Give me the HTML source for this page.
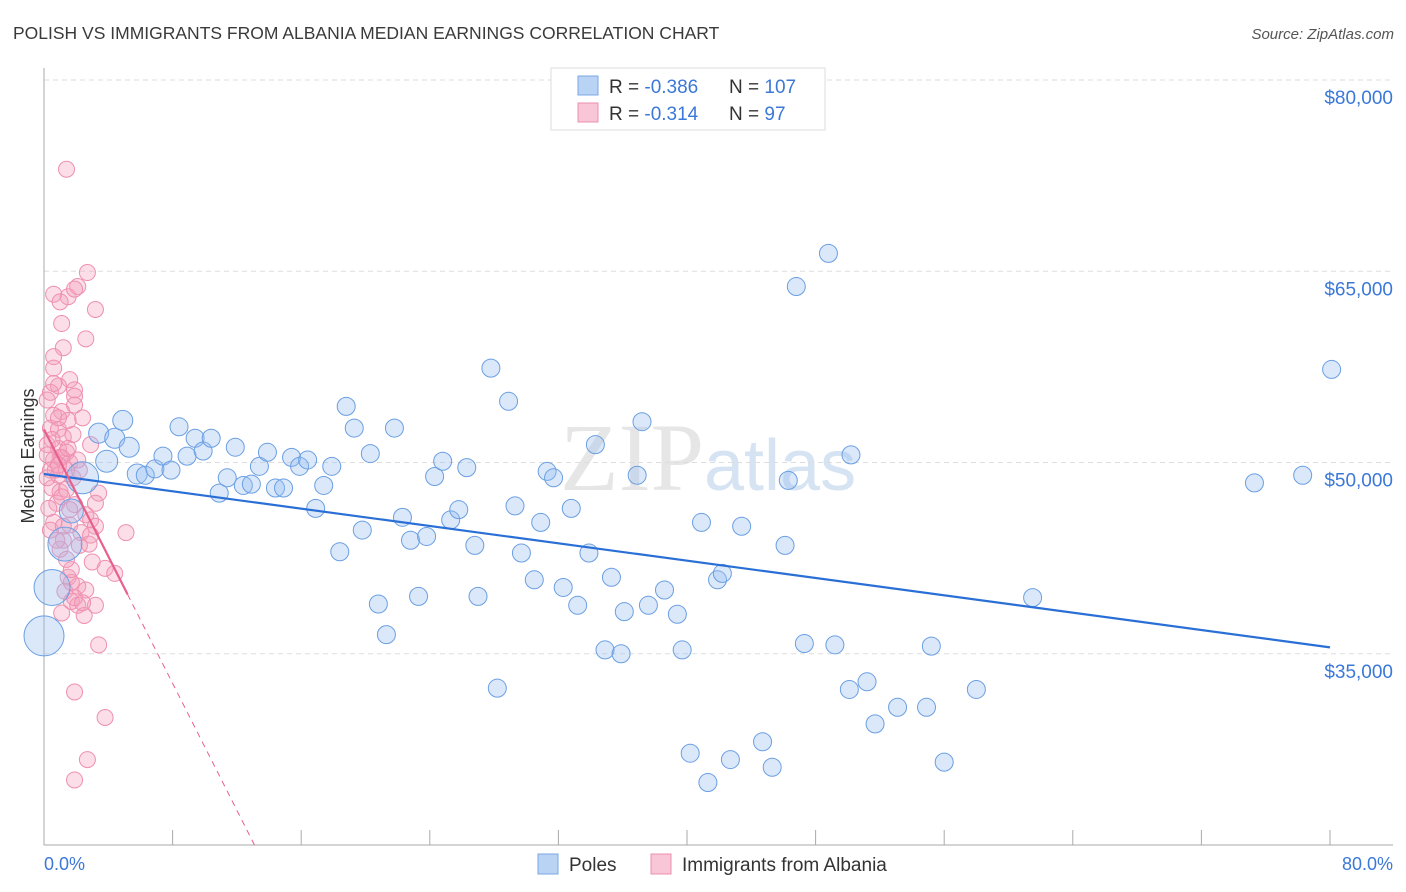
<!DOCTYPE html>
<html><head><meta charset="utf-8"><style>
body{margin:0;background:#fff;font-family:"Liberation Sans",sans-serif}
svg{display:block}
</style></head><body>
<svg id="chart" width="1406" height="892" xmlns="http://www.w3.org/2000/svg">
<text x="13" y="39" font-size="17.5" fill="#3a3a3a">POLISH VS IMMIGRANTS FROM ALBANIA MEDIAN EARNINGS CORRELATION CHART</text>
<text x="1394" y="39" font-size="15" fill="#555" text-anchor="end" font-style="italic">Source: ZipAtlas.com</text>
<text x="560" y="490" font-size="96" fill="#e6e6e6" font-family="Liberation Serif">ZIP<tspan fill="#d5e3f3" font-family="Liberation Sans" font-size="72">atlas</tspan></text>
<g id="grid"></g>
<g id="axes"></g>
<g id="pink"></g>
<g id="blue"></g>
<g id="trends"></g>
<text transform="translate(34,456) rotate(-90)" font-size="18" fill="#333" text-anchor="middle">Median Earnings</text>
<text x="44" y="870" font-size="18" fill="#3b78d8">0.0%</text>
<text x="1393" y="870" font-size="18" fill="#3b78d8" text-anchor="end">80.0%</text>
<g>
<rect x="551" y="68" width="274" height="62" fill="#fff" stroke="#ddd"/>
<rect x="578" y="76" width="20" height="19" fill="#b9d3f5" stroke="#7aa7e6"/>
<rect x="578" y="103" width="20" height="19" fill="#f8c6d6" stroke="#ec8fae"/>
<text x="609" y="93" font-size="19" fill="#333">R = <tspan fill="#3b78d8">-0.386</tspan></text>
<text x="729" y="93" font-size="19" fill="#333">N = <tspan fill="#3b78d8">107</tspan></text>
<text x="609" y="120" font-size="19" fill="#333">R = <tspan fill="#3b78d8"> -0.314</tspan></text>
<text x="729" y="120" font-size="19" fill="#333">N = <tspan fill="#3b78d8">  97</tspan></text>
</g>
<g>
<rect x="538" y="854" width="20" height="20" fill="#b9d3f5" stroke="#7aa7e6"/>
<text x="569" y="871" font-size="19" fill="#333">Poles</text>
<rect x="651" y="854" width="20" height="20" fill="#f8c6d6" stroke="#ec8fae"/>
<text x="682" y="871" font-size="19" fill="#333">Immigrants from Albania</text>
</g>
</svg>
<script>
const yTicks=[80000,65000,50000,35000];
const yTickLabels=["$80,000","$65,000","$50,000","$35,000"];
const xTicks=[0,8,16,24,32,40,48,56,64,72,80];
const blueX=[0,0.5,1.3,2.4,1.7,3.4,3.9,4.4,4.9,5.3,5.8,6.3,6.9,7.4,7.9,8.4,8.9,9.4,9.9,10.4,10.9,11.4,11.9,12.4,12.9,13.4,13.9,14.4,14.9,15.4,15.9,16.4,16.9,17.4,17.9,18.4,18.8,19.3,19.8,20.3,20.8,21.3,21.8,22.3,22.8,23.3,23.8,24.3,24.8,25.3,25.8,26.3,26.8,27.0,27.8,28.2,28.9,29.3,29.7,30.5,30.9,31.3,31.7,32.3,32.8,33.2,33.9,34.3,34.9,35.3,35.9,36.1,36.9,37.2,37.6,38.6,39.4,39.7,40.2,40.9,41.3,41.9,42.2,42.7,43.4,44.7,45.3,46.1,46.3,46.8,47.3,48.8,49.2,50.1,50.2,51.2,51.7,53.1,54.9,55.2,56.0,58.0,61.5,75.3,78.3,80.1];
const blueY=[36.4,40.2,43.6,48.8,46.2,52.3,50.1,51.9,53.3,51.2,49.1,49.0,49.5,50.5,49.4,52.8,50.5,51.9,50.9,51.9,47.6,48.8,51.2,48.2,48.3,49.7,50.8,48.0,48.0,50.4,49.7,50.2,46.4,48.2,49.7,43.0,54.4,52.7,44.7,50.7,38.9,36.5,52.7,45.7,43.9,39.5,44.2,48.9,50.1,45.5,46.3,49.6,43.5,39.5,57.4,32.3,54.8,46.6,42.9,40.8,45.3,49.3,48.8,40.2,46.4,38.8,42.9,51.4,35.3,41.0,35.0,38.3,49.0,53.2,38.8,40.0,38.1,35.3,27.2,45.3,24.9,40.8,41.3,26.7,45.0,28.1,26.1,43.5,48.6,63.8,35.8,66.4,35.7,32.2,50.6,32.8,29.5,30.8,30.8,35.6,26.5,32.2,39.4,48.4,49.0,57.3];
const blueR=[20,18,17,16,12,10,11,10,10,10,10,9,9,9,9,9,9,9,9,9,9,9,9,9,9,9,9,9,9,9,9,9,9,9,9,9,9,9,9,9,9,9,9,9,9,9,9,9,9,9,9,9,9,9,9,9,9,9,9,9,9,9,9,9,9,9,9,9,9,9,9,9,9,9,9,9,9,9,9,9,9,9,9,9,9,9,9,9,9,9,9,9,9,9,9,9,9,9,9,9,9,9,9,9,9,9];
const pinkX=[1.4,2.7,0.6,1.5,2.1,1.9,1.0,3.2,1.1,2.6,1.2,0.6,0.6,1.6,0.9,1.9,1.9,0.4,1.1,1.9,2.4,0.6,0.4,0.9,1.2,1.8,0.2,0.9,1.4,0.6,1.1,1.6,0.4,0.9,1.8,2.2,0.5,1.0,1.4,3.4,1.9,3.2,2.6,0.6,2.9,1.6,3.2,2.3,1.2,5.1,2.8,1.0,3.0,3.8,4.4,1.5,2.1,1.3,1.7,3.2,2.1,2.5,1.1,1.7,3.4,1.9,3.8,2.7,1.9,0.7,0.2,0.8,0.3,1.0,1.4,0.5,1.5,0.2,0.9,1.1,1.6,2.2,2.9,1.7,2.6,0.4,0.8,1.4,1.9,2.4,1.2,0.6,1.5,2.1,0.9,0.2,2.9];
const pinkY=[73.0,64.9,63.2,63.0,63.8,63.6,62.6,62.0,60.9,59.7,59.0,58.3,57.4,56.5,56.0,55.7,55.2,55.5,54.0,54.5,53.5,53.7,52.7,52.6,52.0,52.2,51.4,51.1,50.8,50.2,50.4,50.0,49.4,49.0,48.8,49.4,48.0,47.7,47.9,47.6,46.7,46.8,45.9,45.3,45.5,45.1,45.0,44.5,43.9,44.5,43.6,43.2,42.2,41.7,41.3,41.0,40.3,39.9,39.1,38.8,38.8,38.0,38.2,40.6,35.7,32.0,30.0,26.7,25.1,49.4,48.8,46.8,46.4,50.4,49.4,51.8,53.3,50.6,49.8,47.3,46.3,43.5,44.3,41.6,40.0,44.7,43.9,42.4,39.4,39.0,45.0,56.2,51.1,50.2,53.5,54.9,51.4];
const blueTrend=[49.1,35.5];
const pinkTrend=[52.6,-2.49];
const pinkSolidEnd=5.2;

const NS="http://www.w3.org/2000/svg";
const X=p=>44+p*(1286/80);
const Y=v=>80+(80000-v)*(765/60000);
function mk(tag,attrs,parent){const e=document.createElementNS(NS,tag);for(const k in attrs)e.setAttribute(k,attrs[k]);parent.appendChild(e);return e;}
const grid=document.getElementById('grid'),axes=document.getElementById('axes');
yTicks.forEach((v,i)=>{
  const l=mk('line',{x1:44,x2:1393,y1:Y(v),y2:Y(v),stroke:'#ddd','stroke-dasharray':'5,4'},grid);
  
  
  const t=mk('text',{x:1393,y:Y(v)+24,'font-size':19,fill:'#3b78d8','text-anchor':'end'},grid);
  t.textContent=yTickLabels[i];
  
  
});
let a=mk('line',{x1:44,x2:44,y1:68,y2:845,stroke:'#aaa'},axes);


a=mk('line',{x1:44,x2:1393,y1:845,y2:845,stroke:'#aaa'},axes);


xTicks.forEach(p=>{
  const t=mk('line',{x1:X(p),x2:X(p),y1:830,y2:845,stroke:'#aaa'},axes);
  
  
});
const pg=document.getElementById('pink');
pinkX.forEach((p,i)=>{
  const c=mk('circle',{cx:X(p),cy:Y(pinkY[i]*1000),r:8,fill:'rgba(244,160,188,0.35)',stroke:'#ef8fb0','stroke-width':1},pg);
  
  
});
const bg=document.getElementById('blue');
blueX.forEach((p,i)=>{
  const c=mk('circle',{cx:X(p),cy:Y(blueY[i]*1000),r:blueR[i],fill:'rgba(150,190,240,0.35)',stroke:'#6b9fe2','stroke-width':1},bg);
  
  
});
const tg=document.getElementById('trends');
let tl=mk('line',{x1:X(0),y1:Y(blueTrend[0]*1000),x2:X(80),y2:Y(blueTrend[1]*1000),stroke:'#2a6fd6','stroke-width':2.2},tg);


const pv=p=>(pinkTrend[0]+pinkTrend[1]*p)*1000;
tl=mk('line',{x1:X(0),y1:Y(pv(0)),x2:X(pinkSolidEnd),y2:Y(pv(pinkSolidEnd)),stroke:'#e8608e','stroke-width':2.2},tg);


const pEnd=(20-pinkTrend[0])/pinkTrend[1];
tl=mk('line',{x1:X(pinkSolidEnd),y1:Y(pv(pinkSolidEnd)),x2:X(pEnd),y2:Y(pv(pEnd)),stroke:'#e8608e','stroke-width':1,'stroke-dasharray':'6,5'},tg);


</script>
</body></html>
